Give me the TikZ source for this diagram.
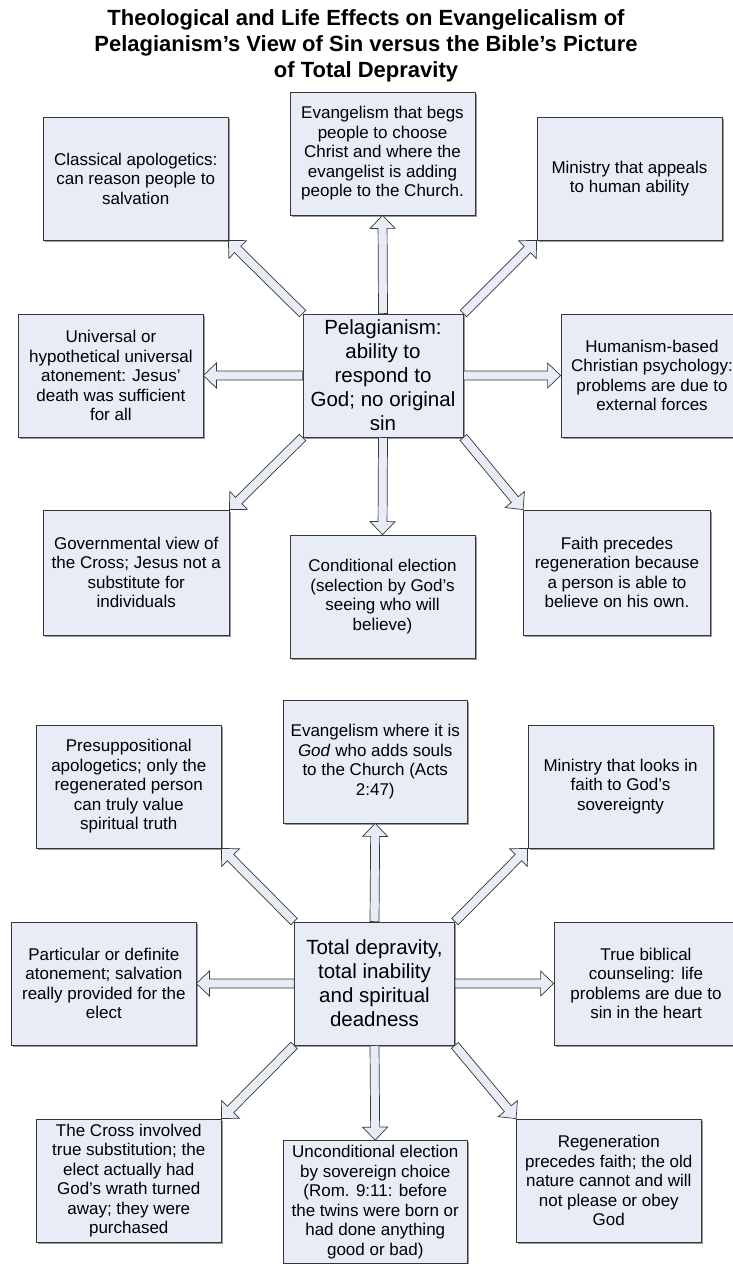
\documentclass[tikz,border=0pt]{standalone}
\usepackage{fontspec}
\setmainfont{Liberation Sans}
\usetikzlibrary{calc,shadows}
\definecolor{boxfill}{RGB}{231,236,247}
\definecolor{boxline}{RGB}{55,55,55}
\tikzset{
  bx/.style={draw=boxline, fill=boxfill, line width=0.8pt, align=center, inner sep=0pt,
    font=\fontsize{17}{19.5}\selectfont,
    drop shadow={shadow xshift=1.5pt, shadow yshift=-1.5pt, fill=black!40, opacity=1}},
  hub/.style={bx, font=\fontsize{20.5}{24}\selectfont},
  arr/.style={draw=boxline, fill=boxfill, line width=0.7pt, line join=miter},
  ttl/.style={font=\fontsize{22}{26}\selectfont\bfseries, align=center, inner sep=0pt}
}
\newcommand{\blockarr}[2]{%
  \coordinate (bS) at (#1);
  \coordinate (bE) at (#2);
  \coordinate (bH) at ($(bE)!13pt!(bS)$);
  \draw[arr] ($(bS)!4.5pt!90:(bE)$) -- ($(bH)!4.5pt!-90:(bS)$) -- ($(bH)!12.5pt!-90:(bS)$) -- (bE)
    -- ($(bH)!12.5pt!90:(bS)$) -- ($(bH)!4.5pt!90:(bS)$) -- ($(bS)!4.5pt!-90:(bE)$) -- cycle;
}
\begin{document}
\begin{tikzpicture}[x=1pt, y=-1pt]
\clip (0,0) rectangle (733,1264);
\fill[white] (0,0) rectangle (733,1264);

\node[ttl] (title) at (366,46) {Theological and Life Effects on Evangelicalism of\\Pelagianism’s View of Sin versus the Bible’s Picture\\of Total Depravity};

% ---------- section 1 ----------
\node[bx, minimum width=184.5pt, minimum height=123pt] (tl1) at (135.75,178.5) {Classical apologetics:\\can reason people to\\salvation};
\node[bx, minimum width=185pt, minimum height=123pt] (t1) at (382.5,153.5) {Evangelism that begs\\people to choose\\Christ and where the\\evangelist is adding\\people to the Church.};
\node[bx, minimum width=185pt, minimum height=123pt] (tr1) at (629.5,178.5) {Ministry that appeals\\to human ability};
\node[bx, minimum width=184.3pt, minimum height=123pt] (l1) at (110.85,375.5) {Universal or\\hypothetical universal\\atonement: Jesus’\\death was sufficient\\for all};
\node[hub, minimum width=160pt, minimum height=123pt] (c1) at (383,375.5) {Pelagianism:\\ability to\\respond to\\God; no original\\sin};
\node[bx, minimum width=182pt, minimum height=123pt] (r1) at (652,375.5) {Humanism-based\\Christian psychology:\\problems are due to\\external forces};
\node[bx, minimum width=185.5pt, minimum height=125pt] (bl1) at (136.25,572.5) {Governmental view of\\the Cross; Jesus not a\\substitute for\\individuals};
\node[bx, minimum width=185pt, minimum height=123pt] (b1) at (382.5,596.5) {Conditional election\\(selection by God’s\\seeing who will\\believe)};
\node[bx, minimum width=187pt, minimum height=125pt] (br1) at (617,572.5) {Faith precedes\\regeneration because\\a person is able to\\believe on his own.};

\blockarr{c1.north}{t1.south}
\blockarr{c1.south}{b1.north}
\blockarr{c1.west}{l1.east}
\blockarr{c1.east}{r1.west}
\blockarr{c1.north west}{tl1.south east}
\blockarr{c1.north east}{tr1.south west}
\blockarr{c1.south west}{bl1.north east}
\blockarr{c1.south east}{br1.north west}

% ---------- section 2 ----------
\node[bx, minimum width=184.5pt, minimum height=123pt] (tl2) at (128.75,786.5) {Presuppositional\\apologetics; only the\\regenerated person\\can truly value\\spiritual truth};
\node[bx, minimum width=184.5pt, minimum height=123pt] (t2) at (375.25,761.5) {Evangelism where it is\\\textit{God} who adds souls\\to the Church (Acts\\2:47)};
\node[bx, minimum width=185pt, minimum height=123pt] (tr2) at (620.5,786.5) {Ministry that looks in\\faith to God’s\\sovereignty};
\node[bx, minimum width=184.3pt, minimum height=123pt] (l2) at (103.85,983.5) {Particular or definite\\atonement; salvation\\really provided for the\\elect};
\node[hub, minimum width=160pt, minimum height=123pt] (c2) at (374.5,983.5) {Total depravity,\\total inability\\and spiritual\\deadness};
\node[bx, minimum width=184pt, minimum height=123pt] (r2) at (646,983.5) {True biblical\\counseling: life\\problems are due to\\sin in the heart};
\node[bx, minimum width=184.5pt, minimum height=123pt] (bl2) at (128.75,1180.5) {The Cross involved\\true substitution; the\\elect actually had\\God’s wrath turned\\away; they were\\purchased};
\node[bx, minimum width=184.5pt, minimum height=123pt] (b2) at (375.25,1202) {Unconditional election\\by sovereign choice\\(Rom. 9:11: before\\the twins were born or\\had done anything\\good or bad)};
\node[bx, minimum width=184.5pt, minimum height=123pt] (br2) at (608.8,1180.5) {Regeneration\\precedes faith; the old\\nature cannot and will\\not please or obey\\God};

\blockarr{c2.north}{t2.south}
\blockarr{c2.south}{b2.north}
\blockarr{c2.west}{l2.east}
\blockarr{c2.east}{r2.west}
\blockarr{c2.north west}{tl2.south east}
\blockarr{c2.north east}{tr2.south west}
\blockarr{c2.south west}{bl2.north east}
\blockarr{c2.south east}{br2.north west}
\end{tikzpicture}
\end{document}
